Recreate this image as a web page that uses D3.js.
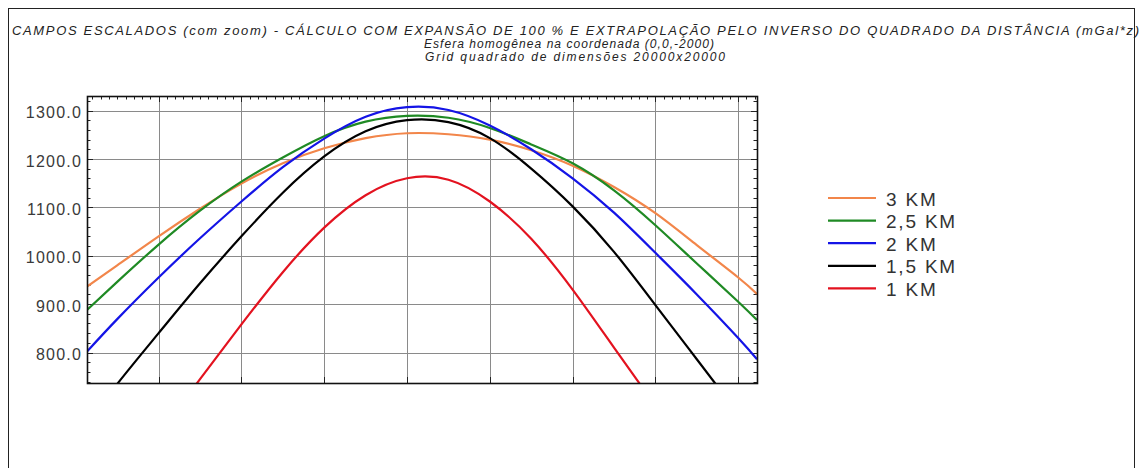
<!DOCTYPE html>
<html>
<head>
<meta charset="utf-8">
<script src="https://cdn.jsdelivr.net/npm/d3@7"></script>
<style>
  html, body { margin: 0; padding: 0; background: #fff; }
  svg { display: block; }
</style>
</head>
<body>
<svg id="chart" width="1139" height="468"></svg>
<script>
// Horizontal position along the profile (m)
const positions = [-3865, -3500, -3000, -2500, -2000, -1500, -1000, -500, 0, 500, 1000, 1500, 2000, 2500, 3000, 3500, 4000, 4227];

// Scaled field (mGal*z) for each expansion height
const km3  = [936, 980, 1040, 1097, 1149, 1191, 1222, 1243, 1253, 1251, 1240, 1218, 1186, 1142, 1088, 1022, 955, 921];
const km25 = [888, 946, 1023, 1093, 1153, 1203, 1247, 1277, 1289, 1285, 1264, 1230, 1191, 1135, 1063, 984, 905, 867];
const km2  = [802, 869, 955, 1036, 1112, 1183, 1242, 1287, 1307, 1301, 1269, 1220, 1160, 1089, 1006, 920, 830, 786];
const km15 = [651, 735, 840, 943, 1040, 1130, 1205, 1257, 1280, 1276, 1243, 1180, 1102, 1008, 898, 786, 674, null];
const km1  = [null, null, 630, 745, 858, 966, 1058, 1125, 1160, 1157, 1112, 1035, 930, 810, 690, null, null, null];

const seriesNames  = ["3 KM", "2,5 KM", "2 KM", "1,5 KM", "1 KM"];
const seriesColors = ["#f2864a", "#1f8a24", "#1414e6", "#000000", "#e3121f"];
const seriesValues = [km3, km25, km2, km15, km1];

const yTicks = [800, 900, 1000, 1100, 1200, 1300];
const xGrid  = [-3000, -2000, -1000, 0, 1000, 2000, 3000, 4000];

const titleText = "CAMPOS ESCALADOS (com zoom) - CÁLCULO COM EXPANSÃO DE 100 % E EXTRAPOLAÇÃO PELO INVERSO DO QUADRADO DA DISTÂNCIA (mGal*z)";
const subtitle1 = "Esfera homogênea na coordenada (0,0,-2000)";
const subtitle2 = "Grid quadrado de dimensões 20000x20000";

const svg = d3.select("#chart");
const W = 1139, H = 468;

// outer frame
svg.append("rect")
  .attr("x", 8.5).attr("y", 8.5)
  .attr("width", 1126).attr("height", H)
  .attr("fill", "#fff").attr("stroke", "#222").attr("stroke-width", 1);

// titles
const font = "'Liberation Sans', Arial, sans-serif";
svg.append("text")
  .attr("x", 12).attr("y", 34.5)
  .attr("textLength", 1127).attr("lengthAdjust", "spacing")
  .style("font", `italic 13px ${font}`).attr("fill", "#222")
  .text(titleText);
svg.append("text")
  .attr("x", 569).attr("y", 48).attr("text-anchor", "middle")
  .attr("textLength", 290).attr("lengthAdjust", "spacing")
  .style("font", `italic 12px ${font}`).attr("fill", "#222")
  .text(subtitle1);
svg.append("text")
  .attr("x", 575).attr("y", 60.5).attr("text-anchor", "middle")
  .attr("textLength", 300).attr("lengthAdjust", "spacing")
  .style("font", `italic 12px ${font}`).attr("fill", "#222")
  .text(subtitle2);

// plot area
const pLeft = 87, pRight = 757, pTop = 96, pBottom = 383;
const x = d3.scaleLinear().domain([-3865, 4227]).range([pLeft, pRight]);
const y = d3.scaleLinear().domain([737, 1330]).range([pBottom, pTop]);

const g = svg.append("g");

// grid
g.append("g").selectAll("line").data(xGrid).join("line")
  .attr("x1", d => Math.round(x(d)) + 0.5).attr("x2", d => Math.round(x(d)) + 0.5)
  .attr("y1", pTop).attr("y2", pBottom)
  .attr("stroke", "#8a8a8a").attr("stroke-width", 1);
g.append("g").selectAll("line").data(yTicks).join("line")
  .attr("y1", d => Math.round(y(d)) + 0.5).attr("y2", d => Math.round(y(d)) + 0.5)
  .attr("x1", pLeft).attr("x2", pRight)
  .attr("stroke", "#8a8a8a").attr("stroke-width", 1);

// minor ticks on the frame (every 20 units vertically, every 100 m along the top)
const yMinor = d3.range(740, 1331, 20);
const xMinor = d3.range(-3800, 4227, 100);
const ticks = g.append("g").attr("stroke", "#222").attr("stroke-width", 1);
ticks.selectAll(".yl").data(yMinor).join("line").attr("class", "yl")
  .attr("x1", pLeft).attr("x2", d => pLeft + (d % 100 === 0 ? 6 : 3.5))
  .attr("y1", d => Math.round(y(d)) + 0.5).attr("y2", d => Math.round(y(d)) + 0.5);
ticks.selectAll(".yr").data(yMinor).join("line").attr("class", "yr")
  .attr("x1", pRight).attr("x2", d => pRight - (d % 100 === 0 ? 6 : 3.5))
  .attr("y1", d => Math.round(y(d)) + 0.5).attr("y2", d => Math.round(y(d)) + 0.5);
ticks.selectAll(".xt").data(xMinor).join("line").attr("class", "xt")
  .attr("x1", d => Math.round(x(d)) + 0.5).attr("x2", d => Math.round(x(d)) + 0.5)
  .attr("y1", pTop).attr("y2", d => pTop + (d % 1000 === 0 ? 6 : 3.5));
ticks.selectAll(".xb").data(xGrid).join("line").attr("class", "xb")
  .attr("x1", d => Math.round(x(d)) + 0.5).attr("x2", d => Math.round(x(d)) + 0.5)
  .attr("y1", pBottom).attr("y2", pBottom - 6);

// curves
svg.append("clipPath").attr("id", "plotClip")
  .append("rect").attr("x", pLeft).attr("y", pTop).attr("width", pRight - pLeft).attr("height", pBottom - pTop);

const line = d3.line()
  .defined(d => d[1] != null)
  .x(d => x(d[0])).y(d => y(d[1]))
  .curve(d3.curveNatural);

const curves = g.append("g").attr("clip-path", "url(#plotClip)");
seriesValues.forEach((vals, i) => {
  curves.append("path")
    .datum(positions.map((p, k) => [p, vals[k]]))
    .attr("d", line)
    .attr("fill", "none")
    .attr("stroke", seriesColors[i])
    .attr("stroke-width", 2.2)
    .attr("stroke-linejoin", "round");
});

// frame of the plot
g.append("rect")
  .attr("x", pLeft + 0.5).attr("y", pTop + 0.5)
  .attr("width", pRight - pLeft).attr("height", pBottom - pTop)
  .attr("fill", "none").attr("stroke", "#111").attr("stroke-width", 1.6);

// y axis labels
const yAxis = d3.axisLeft(y).tickValues(yTicks).tickFormat(d3.format(".1f")).tickSize(0).tickPadding(5);
const ya = svg.append("g").attr("transform", `translate(${pLeft},2)`).call(yAxis);
ya.select(".domain").remove();
ya.selectAll("text")
  .style("font", `16px ${font}`).style("letter-spacing", "1.2px")
  .attr("fill", "#3a3a3a");

// legend
const legend = svg.append("g").attr("transform", "translate(828,198)");
seriesNames.forEach((name, i) => {
  const row = legend.append("g").attr("transform", `translate(0,${i * 22.6})`);
  row.append("line").attr("x1", 0).attr("x2", 48).attr("y1", 0).attr("y2", 0)
    .attr("stroke", seriesColors[i]).attr("stroke-width", 2.2);
  row.append("text").attr("x", 58).attr("y", 0).attr("dy", "0.4em")
    .style("font", `19px ${font}`).style("letter-spacing", "1.8px")
    .attr("fill", "#333").text(name);
});
</script>
</body>
</html>
